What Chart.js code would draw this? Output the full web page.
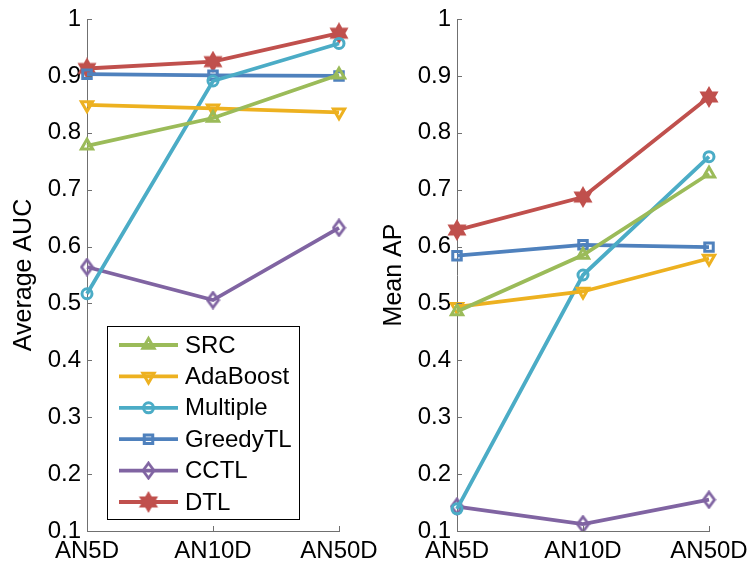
<!DOCTYPE html>
<html>
<head>
<meta charset="utf-8">
<script src="https://cdn.jsdelivr.net/npm/chart.js@4/dist/chart.umd.min.js"></script>
<style>
  html, body { margin: 0; padding: 0; background: #fff; }
  #wrap { position: relative; width: 749px; height: 567px; }
  .box { position: absolute; top: 0; height: 567px; }
</style>
</head>
<body>
<div id="wrap">
  <div class="box" style="left:0;width:400px"><canvas id="aucChart"></canvas></div>
  <div class="box" style="left:374px;width:375px"><canvas id="apChart"></canvas></div>
</div>
<script>
// categories + values
const categories = ['AN5D', 'AN10D', 'AN50D'];
const methods = ['SRC', 'AdaBoost', 'Multiple', 'GreedyTL', 'CCTL', 'DTL'];

const aucSRC      = [0.777, 0.826, 0.902];
const aucAdaBoost = [0.849, 0.843, 0.836];
const aucMultiple = [0.517, 0.891, 0.957];
const aucGreedyTL = [0.903, 0.901, 0.900];
const aucCCTL     = [0.564, 0.506, 0.633];
const aucDTL      = [0.913, 0.925, 0.975];

const apSRC      = [0.486, 0.585, 0.728];
const apAdaBoost = [0.494, 0.521, 0.579];
const apMultiple = [0.139, 0.550, 0.758];
const apGreedyTL = [0.584, 0.603, 0.599];
const apCCTL     = [0.143, 0.112, 0.155];
const apDTL      = [0.629, 0.687, 0.863];

const yTicks = [0.1, 0.2, 0.3, 0.4, 0.5, 0.6, 0.7, 0.8, 0.9, 1];

const colors = ['#9bbb59', '#edb120', '#4bacc6', '#4f81bd', '#8064a2', '#c0504d'];
const FONT = '"Liberation Sans", Arial, Helvetica, sans-serif';

// custom marker images (diamond, hexagram)
function makeDiamond(color) {
    const c = document.createElement('canvas');
    c.width = 15; c.height = 19;
    const g = c.getContext('2d');
    g.strokeStyle = color;
    g.lineWidth = 2.8;
    g.lineJoin = 'miter';
    g.beginPath();
    g.moveTo(7.5, 2); g.lineTo(13, 9.5); g.lineTo(7.5, 17); g.lineTo(2, 9.5);
    g.closePath();
    g.stroke();
    return c;
}
function makeHexagram(color) {
    const c = document.createElement('canvas');
    c.width = 22; c.height = 22;
    const g = c.getContext('2d');
    g.fillStyle = color;
    g.strokeStyle = color;
    g.lineWidth = 2;
    g.lineJoin = 'miter';
    const cx = 11, cy = 11, R = 9, r = 5.2;
    g.beginPath();
    for (let i = 0; i < 12; i++) {
        const a = -Math.PI / 2 + i * Math.PI / 6;
        const rad = i % 2 === 0 ? R : r;
        const px = cx + Math.cos(a) * rad, py = cy + Math.sin(a) * rad;
        if (i === 0) g.moveTo(px, py); else g.lineTo(px, py);
    }
    g.closePath();
    g.fill();
    g.stroke();
    return c;
}

const markers = [
    { pointStyle: 'triangle', radius: 6.5, rotation: 0 },
    { pointStyle: 'triangle', radius: 6.5, rotation: 180 },
    { pointStyle: 'circle', radius: 5, rotation: 0 },
    { pointStyle: 'rect', radius: 6, rotation: 0 },
    { pointStyle: makeDiamond(colors[4]), radius: 6, rotation: 0 },
    { pointStyle: makeHexagram(colors[5]), radius: 8, rotation: 0 }
];

function buildDatasets(series) {
    return series.map((vals, i) => ({
        label: methods[i],
        data: vals,
        borderColor: colors[i],
        backgroundColor: 'rgba(0,0,0,0)',
        borderWidth: 3.8,
        pointStyle: markers[i].pointStyle,
        pointRadius: markers[i].radius,
        pointRotation: markers[i].rotation,
        pointBorderWidth: 3,
        pointBackgroundColor: 'rgba(0,0,0,0)',
        pointBorderColor: colors[i],
        tension: 0
    }));
}

// inward ticks like matlab
const inwardTicks = {
    id: 'inwardTicks',
    afterDatasetsDraw(chart) {
        const ctx = chart.ctx;
        const x = chart.scales.x, y = chart.scales.y;
        const area = chart.chartArea;
        ctx.save();
        ctx.strokeStyle = '#707070';
        ctx.lineWidth = 1;
        ctx.beginPath();
        y.ticks.forEach(t => {
            const py = Math.round(y.getPixelForValue(t.value)) + 0.5;
            ctx.moveTo(area.left, py); ctx.lineTo(area.left + 5, py);
        });
        categories.forEach((c, i) => {
            const px = Math.round(x.getPixelForValue(i)) + 0.5;
            ctx.moveTo(px, area.bottom); ctx.lineTo(px, area.bottom - 5);
        });
        ctx.stroke();
        ctx.restore();
    }
};

const legendBox = {
    id: 'legendBox',
    afterDraw(chart, args, opts) {
        if (!opts.show) return;
        const ctx = chart.ctx;
        const left = 107.5, top = 326.5, right = 299.5, bottom = 519.5;
        ctx.save();
        ctx.fillStyle = '#fff';
        ctx.fillRect(left, top, right - left, bottom - top);
        ctx.strokeStyle = '#000';
        ctx.lineWidth = 1;
        ctx.strokeRect(left, top, right - left, bottom - top);
        ctx.font = '24px ' + FONT;
        ctx.textBaseline = 'middle';
        chart.data.datasets.forEach((ds, i) => {
            const yy = 345 + i * 31.4;
            ctx.strokeStyle = ds.borderColor;
            ctx.lineWidth = 3.8;
            ctx.beginPath();
            ctx.moveTo(119, yy); ctx.lineTo(178, yy);
            ctx.stroke();
            ctx.lineWidth = 3;
            ctx.fillStyle = 'rgba(0,0,0,0)';
            Chart.helpers.drawPoint(ctx, {
                pointStyle: ds.pointStyle,
                radius: ds.pointRadius,
                rotation: ds.pointRotation,
                borderWidth: 3
            }, 148.5, yy);
            ctx.fillStyle = '#000';
            ctx.fillText(ds.label, 185, yy + 1);
        });
        ctx.restore();
    }
};

function makeChart(id, series, title, yWidth, padRight, titlePad, showLegend) {
    const ctx = document.getElementById(id).getContext('2d');
    return new Chart(ctx, {
        type: 'line',
        data: {
            labels: categories,
            datasets: buildDatasets(series)
        },
        options: {
            responsive: true,
            maintainAspectRatio: false,
            animation: false,
            layout: { padding: { left: 0, top: 19, right: padRight, bottom: 0 } },
            plugins: {
                legend: { display: false },
                tooltip: { enabled: false },
                legendBox: { show: showLegend }
            },
            scales: {
                x: {
                    type: 'category',
                    offset: false,
                    grid: { display: false, drawTicks: false },
                    border: { color: '#707070', width: 1 },
                    ticks: { color: '#000', font: { size: 24, family: FONT }, padding: 6, maxRotation: 0, autoSkip: false },
                    afterFit(s) { s.height = 36; s.paddingLeft = 0; s.paddingRight = 0; }
                },
                y: {
                    min: 0.1,
                    max: 1,
                    afterBuildTicks(s) { s.ticks = yTicks.map(v => ({ value: v })); },
                    grid: { display: false, drawTicks: false },
                    border: { color: '#707070', width: 1 },
                    ticks: {
                        color: '#000',
                        font: { size: 24, family: FONT },
                        padding: 6,
                        callback: v => String(Math.round(v * 10) / 10)
                    },
                    title: {
                        display: true,
                        text: title,
                        color: '#000',
                        font: { size: 25, family: FONT },
                        padding: { top: titlePad, bottom: 0 }
                    },
                    afterFit(s) { s.width = yWidth; s.paddingTop = 0; s.paddingBottom = 0; }
                }
            }
        },
        plugins: [inwardTicks, legendBox]
    });
}

makeChart('aucChart',
    [aucSRC, aucAdaBoost, aucMultiple, aucGreedyTL, aucCCTL, aucDTL],
    'Average AUC', 87, 61, 9, true);
makeChart('apChart',
    [apSRC, apAdaBoost, apMultiple, apGreedyTL, apCCTL, apDTL],
    'Mean AP', 83, 40, 5, false);
</script>
</body>
</html>
